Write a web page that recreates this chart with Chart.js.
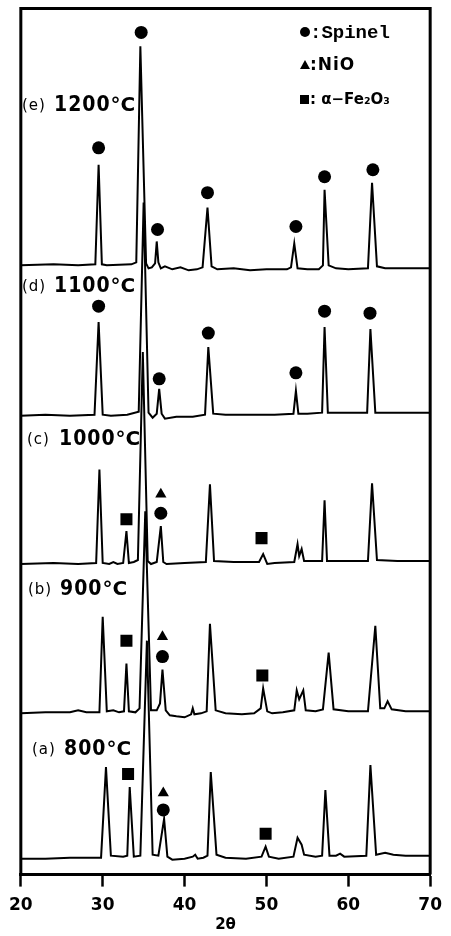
<!DOCTYPE html>
<html>
<head>
<meta charset="utf-8">
<script src="https://cdn.jsdelivr.net/npm/chart.js@4.4.1/dist/chart.umd.min.js"></script>
<style>
    html, body { margin: 0; padding: 0; background: #fff; }
    #wrap { position: relative; width: 451px; height: 936px; }
</style>
</head>
<body>
<div id="wrap"><canvas id="xrdChart"></canvas></div>
<script>
// XRD patterns of the powder calcined at 800–1200 °C, stacked bottom (a) to top (e).
// Intensities are arbitrary counts.
const sampleTags = ['(a)', '(b)', '(c)', '(d)', '(e)'];
const sampleTemps = ['800°C', '900°C', '1000°C', '1100°C', '1200°C'];
const stackOffsets = [16, 162, 312, 461, 612];
const xTicks = [20, 30, 40, 50, 60, 70];

// [2θ, counts above the pattern's own baseline]
const pattern800 = [
    [20, 0], [23, 0], [26, 1], [28, 1], [29.8, 1], [30.4, 92], [31.0, 3], [32.5, 2], [33.0, 3], [33.3, 72],
    [33.8, 2], [34.6, 3], [35.4, 219], [36.1, 4], [36.8, 3], [37.5, 40], [37.9, 2], [38.5, -1], [40, 0],
    [41.0, 2], [41.3, 4], [41.6, 0], [42.3, 1], [42.8, 3], [43.2, 87], [43.9, 4], [45, 1], [47.5, 0], [49.4, 2],
    [49.9, 12], [50.3, 2], [51.5, 0], [53.3, 2], [53.8, 21], [54.3, 14], [54.6, 4], [56, 2], [56.8, 3],
    [57.2, 69], [57.7, 3], [58.5, 3], [59, 5], [59.5, 2], [62.2, 3], [62.7, 94], [63.4, 4], [64.5, 6],
    [65.5, 4], [67, 3], [70, 3]
];
const pattern900 = [
    [20, 0], [23, 1], [26, 1], [27, 3], [28, 1], [29.6, 1], [30.0, 97], [30.5, 2], [31.3, 3], [32.0, 1],
    [32.6, 2], [32.9, 50], [33.2, 2], [34.0, 1], [34.5, 5], [35.2, 203], [35.9, 3], [36.6, 3], [37.0, 10],
    [37.3, 44], [37.7, 3], [38.2, -2], [39, -3], [40, -4], [40.8, -1], [41.0, 5], [41.2, -1], [42, 0],
    [42.7, 2], [43.1, 90], [43.8, 3], [45, 0], [47, -1], [48.5, 0], [49.3, 5], [49.6, 25], [50.1, 2],
    [50.7, 0], [52, 1], [53.4, 3], [53.7, 23], [54.0, 14], [54.5, 23], [54.8, 3], [56, 2], [56.9, 4],
    [57.6, 61], [58.2, 4], [60, 2], [62.4, 2], [63.3, 88], [63.9, 5], [64.4, 5], [64.8, 12], [65.3, 4],
    [67, 2], [70, 2]
];
const pattern1000 = [
    [20, 0], [24, 1], [27, 0], [29.2, 1], [29.6, 95], [30.0, 1], [30.8, 0], [31.3, 2], [31.8, 0], [32.5, 1],
    [32.9, 33], [33.2, 1], [33.8, 2], [34.3, 4], [34.9, 213], [35.5, 3], [35.9, 0], [36.6, 2], [37.1, 38],
    [37.4, 2], [37.8, 0], [40, 1], [42.6, 2], [43.1, 80], [43.6, 3], [46, 2], [49.1, 2], [49.6, 10],
    [50.1, 0], [51, 1], [53.4, 2], [53.8, 20], [54.0, 8], [54.3, 15], [54.6, 3], [56, 3], [56.8, 3],
    [57.1, 64], [57.4, 3], [60, 3], [62.4, 3], [62.9, 81], [63.5, 4], [66, 3], [70, 3]
];
const pattern1100 = [
    [20, 0], [23, 1], [26, 0], [29.0, 1], [29.5, 94], [30.0, 1], [31, 0], [33, 1], [34.4, 4], [35.0, 214],
    [35.6, 3], [36.1, -2], [36.6, 2], [36.9, 27], [37.2, 2], [37.6, -3], [39, -1], [41, -1], [42.5, 1],
    [42.9, 69], [43.5, 2], [45, 1], [48, 1], [51, 1], [53.3, 2], [53.6, 25], [53.9, 2], [55, 2], [56.8, 3],
    [57.1, 89], [57.5, 3], [59, 3], [61, 3], [62.3, 3], [62.7, 87], [63.3, 3], [65, 3], [70, 3]
];
const pattern1200 = [
    [20, 0], [24, 1], [27, 0], [29.1, 1], [29.5, 101], [29.9, 1], [30.5, 0], [33.5, 1], [34.1, 3],
    [34.6, 220], [35.3, 2], [35.6, -3], [36.0, -2], [36.4, 2], [36.6, 24], [36.8, 3], [37.1, -3], [37.6, -1],
    [38.5, -4], [39.5, -2], [40.5, -5], [41.5, -4], [42.2, -2], [42.8, 58], [43.3, -1], [44, -4], [46, -3],
    [48, -5], [50, -4], [52.5, -4], [53.0, -2], [53.4, 22], [53.8, -3], [55, -4], [56.4, -4], [56.9, 0],
    [57.1, 76], [57.6, 0], [58.5, -3], [60, -4], [62.4, -3], [62.9, 83], [63.5, -1], [64.5, -3], [67, -3],
    [70, -3]
];
const patterns = [pattern800, pattern900, pattern1000, pattern1100, pattern1200];

// phase markers: [2θ, absolute height on the stacked scale]
const spinelMarks = [
    [29.5, 730], [34.7, 846], [36.7, 648], [42.8, 685], [53.6, 651], [57.1, 701], [63.0, 708],
    [29.5, 571], [36.9, 498], [42.9, 544], [53.6, 504], [57.1, 566], [62.65, 564],
    [37.1, 363], [37.3, 219], [37.4, 65]
];
const nioMarks = [[37.1, 382], [37.3, 239], [37.4, 82]];
const hematiteMarks = [[32.9, 357], [49.4, 338], [32.9, 235], [49.5, 200], [33.1, 101], [49.9, 41]];

const FONT = '"DejaVu Sans", sans-serif';
const NARROW = '"Liberation Sans Narrow", "DejaVu Sans Condensed", "DejaVu Sans", sans-serif';

function toPoints(pairs, offset = 0) {
    return pairs.map(([x, y]) => ({ x, y: y + offset }));
}

const traceSets = patterns.map((p, i) => ({
    label: sampleTags[i] + ' ' + sampleTemps[i],
    data: toPoints(p, stackOffsets[i]),
    showLine: true, borderColor: '#000', borderWidth: 2,
    pointRadius: 0, tension: 0, fill: false
}));

function markerSet(label, pairs, style, radius) {
    return {
        label, data: toPoints(pairs), showLine: false,
        pointStyle: style, pointRadius: radius,
        backgroundColor: '#000', borderColor: '#000', borderWidth: 0
    };
}

// frame, sample labels and the phase key
const decorations = {
    id: 'decorations',
    afterDraw(chart) {
        const { ctx, chartArea: a } = chart;
        ctx.save();
        ctx.strokeStyle = '#000';
        ctx.lineWidth = 3;
        ctx.beginPath();
        ctx.moveTo(a.left, a.bottom);
        ctx.lineTo(a.left, a.top);
        ctx.lineTo(a.right, a.top);
        ctx.lineTo(a.right, a.bottom);
        ctx.stroke();

        ctx.fillStyle = '#000';
        ctx.textBaseline = 'middle';
        const labelPos = [[32, 750], [28, 590], [27, 440], [22, 287], [22, 106]];
        labelPos.forEach(([x, y], i) => {
            ctx.font = '15px ' + FONT;
            ctx.letterSpacing = '1px';
            ctx.fillText(sampleTags[i], x, y);
            const digits = sampleTemps[i].replace('°C', '');
            ctx.font = 'bold 21px ' + NARROW;
            const dx = x + 32;
            ctx.fillText(digits, dx, y);
            const ex = dx + ctx.measureText(digits).width;
            ctx.letterSpacing = '0px';
            ctx.font = 'bold 20px ' + FONT;
            ctx.fillText('°C', ex, y);
        });

        // key
        ctx.letterSpacing = '0px';
        ctx.beginPath();
        ctx.arc(305, 32, 5, 0, Math.PI * 2);
        ctx.fill();
        ctx.font = 'bold 19px "Liberation Mono", monospace';
        ctx.fillText(':Spinel', 310, 33);

        ctx.beginPath();
        ctx.moveTo(300, 69);
        ctx.lineTo(310, 69);
        ctx.lineTo(305, 60);
        ctx.closePath();
        ctx.fill();
        ctx.font = 'bold 17px ' + FONT;
        ctx.letterSpacing = '1px';
        ctx.fillText(':NiO', 310, 66);

        ctx.fillRect(300, 95, 9, 9);
        ctx.letterSpacing = '0px';
        ctx.font = 'bold 15px ' + FONT;
        ctx.fillText(': α−Fe₂O₃', 310, 100);
        ctx.restore();
    }
};

new Chart(document.getElementById('xrdChart').getContext('2d'), {
    type: 'scatter',
    data: {
        datasets: [
            ...traceSets,
            markerSet('Spinel', spinelMarks, 'circle', 6.5),
            markerSet('NiO', nioMarks, 'triangle', 6.5),
            markerSet('α-Fe2O3', hematiteMarks, 'rect', 8.5)
        ]
    },
    options: {
        responsive: true, maintainAspectRatio: false, animation: false,
        layout: { padding: { left: 19, right: 17, top: 5, bottom: 2 } },
        plugins: { legend: { display: false }, tooltip: { enabled: false } },
        scales: {
            x: {
                type: 'linear', min: 20, max: 70,
                afterBuildTicks: s => { s.ticks = xTicks.map(v => ({ value: v })); },
                grid: { display: true, drawOnChartArea: false, drawTicks: true, tickLength: 12, tickWidth: 2.5, tickColor: '#000' },
                border: { display: true, color: '#000', width: 3 },
                ticks: { color: '#000', padding: 9, font: { family: FONT, size: 17, weight: 'bold' } },
                title: { display: true, text: '2θ', color: '#000', padding: { top: -9, bottom: 0 }, font: { family: FONT, size: 15, weight: 'bold' } }
            },
            y: { display: false, min: 0, max: 870 }
        }
    },
    plugins: [decorations]
});
</script>
</body>
</html>
